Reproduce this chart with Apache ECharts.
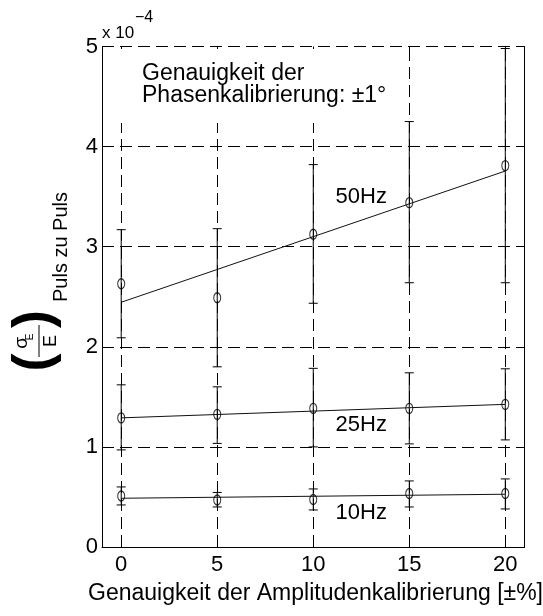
<!DOCTYPE html>
<html><head><meta charset="utf-8">
<script src="https://cdn.jsdelivr.net/npm/echarts@6/dist/echarts.min.js"></script>
<style>html,body{margin:0;padding:0;background:#fff}#c{width:543px;height:616px}</style>
</head><body><div id="c"></div>
<script>
// ---- data ----
const xVals = [0, 5, 10, 15, 20];
const xTicks = [0, 5, 10, 15, 20];
const yTicks = [0, 1, 2, 3, 4, 5];

const mean10 = [0.51, 0.47, 0.475, 0.535, 0.535];
const low10  = [0.42, 0.40, 0.37, 0.40, 0.38];
const high10 = [0.60, 0.545, 0.58, 0.66, 0.68];

const mean25 = [1.29, 1.325, 1.385, 1.385, 1.425];
const low25  = [0.97, 1.035, 1.00, 1.03, 1.07];
const high25 = [1.62, 1.60, 1.785, 1.74, 1.78];

const mean50 = [2.63, 2.49, 3.125, 3.44, 3.81];
const low50  = [2.09, 1.80, 2.435, 2.64, 2.64];
const high50 = [3.17, 3.18, 3.82, 4.25, 4.98];

const fitX  = [0, 20];
const fit10 = [0.487, 0.527];
const fit25 = [1.29, 1.425];
const fit50 = [2.445, 3.756];

const seriesNames = ['10Hz', '25Hz', '50Hz'];
const xTitle = 'Genauigkeit der Amplitudenkalibrierung [\u00b1%]';
const noteLines = ['Genauigkeit der', 'Phasenkalibrierung: \u00b11\u00b0'];

// ---- chart ----
const NARROW = "'Liberation Sans Narrow', 'Arial Narrow', 'Liberation Sans', Arial, sans-serif";
const SANS = "'Liberation Sans', Arial, Helvetica, sans-serif";
const chart = echarts.init(document.getElementById('c'), null, {renderer: 'canvas'});

function errRender(params, api) {
  const x = api.value(0), lo = api.value(1), hi = api.value(2);
  const pLo = api.coord([x, lo]), pHi = api.coord([x, hi]);
  const w = 4.5;
  const style = {stroke: '#000', lineWidth: 1};
  return {type: 'group', children: [
    {type: 'line', shape: {x1: pLo[0], y1: pLo[1], x2: pHi[0], y2: pHi[1]}, style},
    {type: 'line', shape: {x1: pLo[0] - w, y1: pLo[1], x2: pLo[0] + w, y2: pLo[1]}, style},
    {type: 'line', shape: {x1: pHi[0] - w, y1: pHi[1], x2: pHi[0] + w, y2: pHi[1]}, style}
  ]};
}
const means = [mean10, mean25, mean50];
const lows = [low10, low25, low50];
const highs = [high10, high25, high50];
const fits = [fit10, fit25, fit50];

const series = [{
  type: 'line', data: [], z: 0, silent: true,
  markLine: {
    z: 0, silent: true, symbol: 'none', animation: false,
    label: {show: false},
    lineStyle: {type: [12, 6], color: '#000', width: 1},
    data: xTicks.map(v => ({xAxis: v}))
  }
}];
for (let k = 0; k < 3; k++) {
  series.push({
    type: 'custom', name: seriesNames[k] + ' err', z: 3,
    renderItem: errRender,
    encode: {x: 0, y: [1, 2]},
    data: xVals.map((x, i) => [x, lows[k][i], highs[k][i]])
  });
  series.push({
    type: 'scatter', name: seriesNames[k], z: 4,
    symbol: 'circle', symbolSize: [7, 10],
    itemStyle: {color: 'rgba(0,0,0,0)', borderColor: '#000', borderWidth: 1.2},
    data: xVals.map((x, i) => [x, means[k][i]])
  });
  series.push({
    type: 'line', name: seriesNames[k] + ' fit', z: 3,
    symbol: 'none', lineStyle: {color: '#111', width: 1},
    data: fitX.map((x, i) => [x, fits[k][i]])
  });
}
const hzLabels = [[12.5, 3.5, seriesNames[2]], [12.5, 1.22, seriesNames[1]], [12.5, 0.34, seriesNames[0]]];
series.push({
  type: 'custom', z: 5, silent: true,
  encode: {x: 0, y: 1},
  data: hzLabels,
  renderItem: (params, api) => {
    const p = api.coord([api.value(0), api.value(1)]);
    return {type: 'text', x: p[0], y: p[1],
            style: {text: hzLabels[params.dataIndex][2], fill: '#000', fontSize: 22,
                    fontFamily: SANS, align: 'center', verticalAlign: 'middle'}};
  }
});

const option = {
  animation: false,
  backgroundColor: '#fff',
  grid: {left: 102, right: 18.5, top: 46.5, bottom: 69},
  xAxis: [{
    type: 'value', min: -1, max: 21,
    axisLine: {show: true, onZero: false, lineStyle: {color: '#000', width: 1}},
    axisTick: {show: true, inside: true, length: 5, customValues: xTicks, lineStyle: {color: '#000'}},
    axisLabel: {customValues: xTicks, color: '#000', fontSize: 22, fontFamily: NARROW, margin: 7},
    splitLine: {show: false}
  }, {
    type: 'value', position: 'top', min: -1, max: 21,
    axisLine: {show: false, onZero: false},
    axisTick: {show: true, inside: true, length: 5, customValues: xTicks, lineStyle: {color: '#000'}},
    axisLabel: {show: false},
    splitLine: {show: false}
  }],
  yAxis: [{
    type: 'value', min: 0, max: 5, interval: 1,
    axisLine: {show: true, onZero: false, lineStyle: {color: '#000', width: 1}},
    axisTick: {show: true, inside: true, length: 5, lineStyle: {color: '#000'}},
    axisLabel: {color: '#000', fontSize: 22, fontFamily: NARROW, margin: 4,
                formatter: v => yTicks.includes(v) ? String(v) : ''},
    splitLine: {show: true, lineStyle: {type: [12, 6], color: '#000', width: 1}}
  }, {
    type: 'value', position: 'right', min: 0, max: 5, interval: 1,
    axisLine: {show: true, onZero: false, lineStyle: {color: '#000', width: 1}},
    axisTick: {show: true, inside: true, length: 5, lineStyle: {color: '#000'}},
    axisLabel: {show: false},
    splitLine: {show: false}
  }],
  series: series,
  graphic: [
    {type: 'rect', z: 1, shape: {x: 104, y: 49, width: 296, height: 74}, style: {fill: '#fff'}},
    {type: 'text', z: 6, x: 142, y: 73.5, style: {text: noteLines[0], fontSize: 23, fontFamily: SANS, fill: '#000', verticalAlign: 'middle'}},
    {type: 'text', z: 6, x: 142, y: 95.5, style: {text: noteLines[1], fontSize: 23, fontFamily: SANS, fill: '#000', verticalAlign: 'middle'}},
    {type: 'text', z: 6, x: 102, y: 33.5, style: {text: 'x 10', fontSize: 17, fontFamily: NARROW, fill: '#000', verticalAlign: 'middle'}},
    {type: 'text', z: 6, x: 135, y: 17.5, style: {text: '\u22124', fontSize: 16, fontFamily: NARROW, fill: '#000', verticalAlign: 'middle'}},
    {type: 'text', z: 6, x: 315.5, y: 594, style: {text: xTitle, fontSize: 23, fontFamily: SANS, fill: '#000', align: 'center', verticalAlign: 'middle'}},
    {type: 'text', z: 6, x: 61, y: 247, rotation: Math.PI / 2,
     style: {text: 'Puls zu Puls', fontSize: 20, fontFamily: SANS, fill: '#000', align: 'center', verticalAlign: 'middle'}},
    {type: 'group', x: 39, y: 341, rotation: Math.PI / 2, z: 6, children: [
      {type: 'text', x: -2, y: -17, style: {text: '\u03c3', fontSize: 19, fontFamily: SANS, fill: '#000', align: 'center', verticalAlign: 'middle'}},
      {type: 'text', x: 4, y: -9, style: {text: 'E', fontSize: 10, fontFamily: SANS, fill: '#000', align: 'center', verticalAlign: 'middle'}},
      {type: 'line', shape: {x1: -16, y1: 0, x2: 16, y2: 0}, style: {stroke: '#000', lineWidth: 1}},
      {type: 'text', x: 0, y: 12.5, style: {text: 'E', fontSize: 18, fontFamily: SANS, fill: '#000', align: 'center', verticalAlign: 'middle'}},
      {type: 'text', x: -21.5, y: -4, style: {text: '(', fontSize: 54, fontWeight: 'bold', fontFamily: SANS, fill: '#000', align: 'center', verticalAlign: 'middle'}},
      {type: 'text', x: 22, y: -4, style: {text: ')', fontSize: 54, fontWeight: 'bold', fontFamily: SANS, fill: '#000', align: 'center', verticalAlign: 'middle'}}
    ]}
  ]
};
chart.setOption(option);
</script>
</body></html>
